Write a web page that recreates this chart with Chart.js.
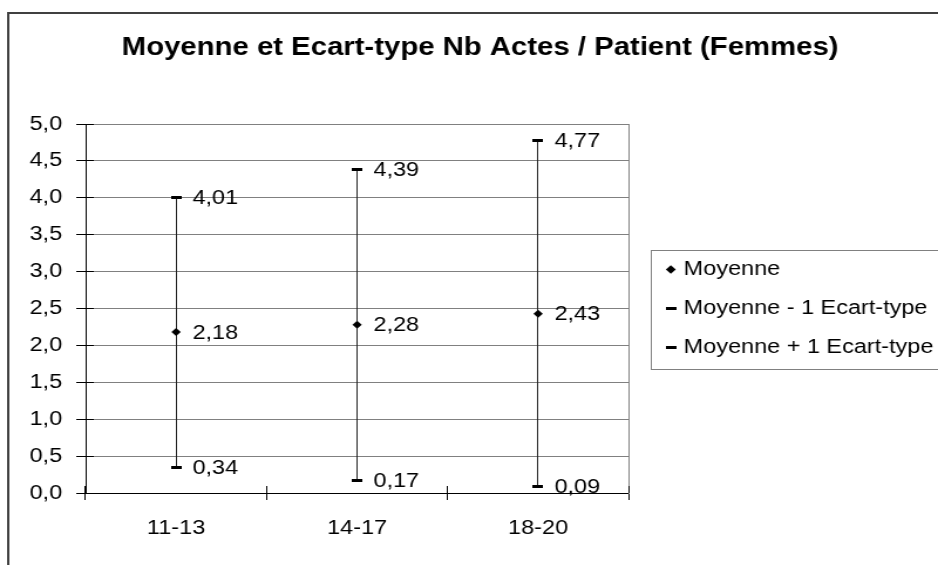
<!DOCTYPE html>
<html>
<head>
<meta charset="utf-8">
<script src="https://cdn.jsdelivr.net/npm/chart.js@4.4.1/dist/chart.umd.min.js"></script>
<style>
    html, body { margin: 0; padding: 0; background: #fff; overflow: hidden; }
    /* the original picture is stretched sideways: draw at 800 wide, show at 938 */
    #chart { width: 938px; height: 565px; }
</style>
</head>
<body>
<canvas id="chart" width="800" height="565" style="width:938px;height:565px"></canvas>
<script>
// DATA
var ageGroups = ['11-13', '14-17', '18-20'];
var moyenne = [2.18, 2.28, 2.43];
var moinsEcart = [0.34, 0.17, 0.09];
var plusEcart = [4.01, 4.39, 4.77];
var seriesNames = ['Moyenne', 'Moyenne - 1 Ecart-type', 'Moyenne + 1 Ecart-type'];
var yMax = 5;
var yStep = 0.5;

var FONT = '"Liberation Sans", Arial, sans-serif';

function frDecimal(v, n) {
    return Number(v).toFixed(n).replace('.', ',');
}

// small black dash used as marker for the +/- ecart-type points
var dash = document.createElement('canvas');
dash.width = 9;
dash.height = 3;
var dctx = dash.getContext('2d');
dctx.fillStyle = '#000';
dctx.fillRect(0, 0, 9, 3);

function alignPx(p) {
    return Math.round(p - 0.5) + 0.5;
}

// vertical line between low and high of each group
var rangePlugin = {
    id: 'range',
    beforeDatasetsDraw: function(chart) {
        var ctx = chart.ctx;
        var low = chart.getDatasetMeta(1).data;
        var high = chart.getDatasetMeta(2).data;
        ctx.save();
        ctx.strokeStyle = '#222';
        ctx.lineWidth = 1;
        ctx.beginPath();
        for (var i = 0; i < low.length; i++) {
            var x = alignPx(low[i].x);
            ctx.moveTo(x, high[i].y);
            ctx.lineTo(x, low[i].y);
        }
        ctx.stroke();
        ctx.restore();
    }
};

// value labels next to each marker
var labelPlugin = {
    id: 'valueLabels',
    afterDatasetsDraw: function(chart) {
        var ctx = chart.ctx;
        ctx.save();
        ctx.font = '20px ' + FONT;
        ctx.fillStyle = '#000';
        ctx.textAlign = 'left';
        ctx.textBaseline = 'middle';
        chart.data.datasets.forEach(function(ds, di) {
            chart.getDatasetMeta(di).data.forEach(function(pt, i) {
                ctx.fillText(frDecimal(ds.data[i], 2), pt.x + 14, pt.y + 1);
            });
        });
        ctx.restore();
    }
};

// frame, legend box and inner half of the crossing tick marks
var framePlugin = {
    id: 'frame',
    afterDraw: function(chart) {
        var ctx = chart.ctx;
        var a = chart.chartArea;
        var xs = chart.scales.x;
        var ys = chart.scales.y;
        ctx.save();

        ctx.strokeStyle = '#000';
        ctx.lineWidth = 1;
        ctx.beginPath();
        ys.ticks.forEach(function(t) {
            var y = alignPx(ys.getPixelForValue(t.value));
            ctx.moveTo(a.left, y);
            ctx.lineTo(a.left + 7, y);
        });
        var half = (xs.getPixelForValue(1) - xs.getPixelForValue(0)) / 2;
        for (var i = 0; i <= ageGroups.length; i++) {
            var x = alignPx(xs.getPixelForValue(0) - half + 2 * half * i);
            ctx.moveTo(x, a.bottom - 7);
            ctx.lineTo(x, a.bottom);
        }
        ctx.stroke();

        var hb = chart.legend.legendHitBoxes;
        if (hb && hb.length) {
            ctx.strokeStyle = '#808080';
            ctx.lineWidth = 1;
            var top = Math.round(hb[0].top) - 9.5;
            var bottom = Math.round(hb[hb.length - 1].top) + 31.5;
            ctx.strokeRect(Math.round(hb[0].left) - 15.5, top, 400, bottom - top);
        }

        ctx.strokeStyle = '#404040';
        ctx.lineWidth = 2;
        ctx.strokeRect(7, 13, 2000, 2000);
        ctx.restore();
    }
};

var tickFont = { family: FONT, size: 20 };

new Chart(document.getElementById('chart').getContext('2d'), {
    type: 'line',
    data: {
        labels: ageGroups,
        datasets: [{
            label: seriesNames[0],
            data: moyenne,
            yAxisID: 'y',
            showLine: false,
            pointStyle: 'rectRot',
            pointRadius: 4,
            backgroundColor: '#000',
            borderColor: '#000',
            borderWidth: 0
        }, {
            label: seriesNames[1],
            data: moinsEcart,
            yAxisID: 'y',
            showLine: false,
            pointStyle: dash,
            pointRadius: 5,
            backgroundColor: '#000',
            borderColor: '#000',
            borderWidth: 0
        }, {
            label: seriesNames[2],
            data: plusEcart,
            yAxisID: 'y',
            showLine: false,
            pointStyle: dash,
            pointRadius: 5,
            backgroundColor: '#000',
            borderColor: '#000',
            borderWidth: 0
        }]
    },
    options: {
        responsive: false,
        animation: false,
        events: [],
        layout: {
            padding: { left: 13, right: -6, top: 0, bottom: 22 }
        },
        plugins: {
            title: {
                display: true,
                text: 'Moyenne et Ecart-type Nb Actes / Patient (Femmes)',
                color: '#000',
                font: { family: FONT, size: 25, weight: 'bold' },
                padding: { top: 33, bottom: 61 }
            },
            legend: {
                position: 'right',
                fullSize: false,
                maxWidth: 400,
                labels: {
                    usePointStyle: true,
                    boxWidth: 2,
                    boxHeight: 6,
                    padding: 19,
                    color: '#000',
                    font: tickFont
                }
            },
            tooltip: { enabled: false }
        },
        scales: {
            x: {
                offset: true,
                grid: {
                    offset: true,
                    drawOnChartArea: false,
                    tickLength: 7,
                    tickColor: '#000'
                },
                border: { color: '#000' },
                ticks: { color: '#000', font: tickFont, padding: 16 },
                afterFit: function(s) { s.height = 50; }
            },
            y: {
                min: 0,
                max: yMax,
                ticks: {
                    stepSize: yStep,
                    padding: 12,
                    color: '#000',
                    font: tickFont,
                    callback: function(v) { return frDecimal(v, 1); }
                },
                grid: { color: '#808080', tickColor: '#000', tickLength: 8 },
                border: { color: '#000' },
                afterFit: function(s) { s.width = 60; }
            },
            y2: {
                position: 'right',
                grid: { drawOnChartArea: false, drawTicks: false },
                ticks: { display: false },
                border: { color: '#808080' },
                afterFit: function(s) { s.width = 16; }
            }
        }
    },
    plugins: [rangePlugin, labelPlugin, framePlugin]
});
</script>
</body>
</html>
